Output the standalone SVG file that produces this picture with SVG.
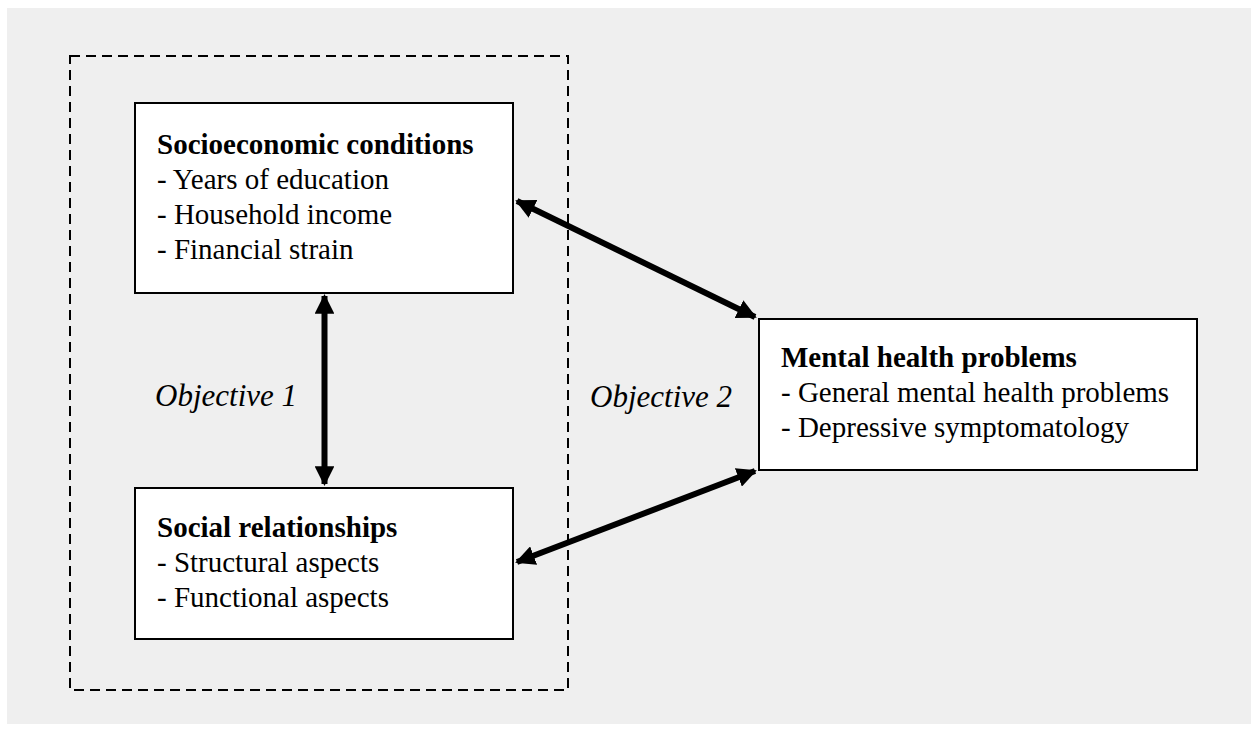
<svg xmlns="http://www.w3.org/2000/svg" width="1260" height="734" viewBox="0 0 1260 734">
<defs>
<style>
.box{fill:#fff;stroke:#000;stroke-width:2}
.t{font-family:"Liberation Serif","Times New Roman",serif;font-size:29px;fill:#000}
.b{font-weight:bold}
.i{font-style:italic;font-size:31px}
.conn{stroke:#000;stroke-width:6;fill:none;marker-start:url(#ah);marker-end:url(#ah)}
</style>
<marker id="ah" viewBox="0 0 10 10" refX="9" refY="5" markerWidth="3.3" markerHeight="3.3" orient="auto-start-reverse" markerUnits="strokeWidth">
<path d="M0,0 L10,5 L0,10 z" fill="#000"/>
</marker>
</defs>
<rect x="0" y="0" width="1260" height="734" fill="#fff"/>
<rect x="7" y="8" width="1244" height="716" fill="#efefef"/>
<rect id="group-box" x="70" y="56" width="498" height="634" fill="none" stroke="#000" stroke-width="2" stroke-dasharray="10 6"/>
<g id="connectors">
<line class="conn" x1="324.5" y1="296" x2="324.5" y2="484"/>
<line class="conn" x1="517" y1="201" x2="755" y2="317"/>
<line class="conn" x1="517" y1="562" x2="755" y2="471"/>
</g>
<g id="socioeconomic">
<rect class="box" x="135" y="103" width="378" height="190"/>
<text class="t b" x="157" y="154">Socioeconomic conditions</text>
<text class="t" x="157" y="189">- Years of education</text>
<text class="t" x="157" y="224">- Household income</text>
<text class="t" x="157" y="259">- Financial strain</text>
</g>
<g id="social">
<rect class="box" x="135" y="488" width="378" height="151"/>
<text class="t b" x="157" y="537">Social relationships</text>
<text class="t" x="157" y="572">- Structural aspects</text>
<text class="t" x="157" y="607">- Functional aspects</text>
</g>
<g id="mental">
<rect class="box" x="759" y="319" width="438" height="151"/>
<text class="t b" x="781" y="367">Mental health problems</text>
<text class="t" x="781" y="402">- General mental health problems</text>
<text class="t" x="781" y="437">- Depressive symptomatology</text>
</g>
<g id="labels">
<text class="t i" x="155" y="406">Objective 1</text>
<text class="t i" x="590" y="407">Objective 2</text>
</g>
</svg>
